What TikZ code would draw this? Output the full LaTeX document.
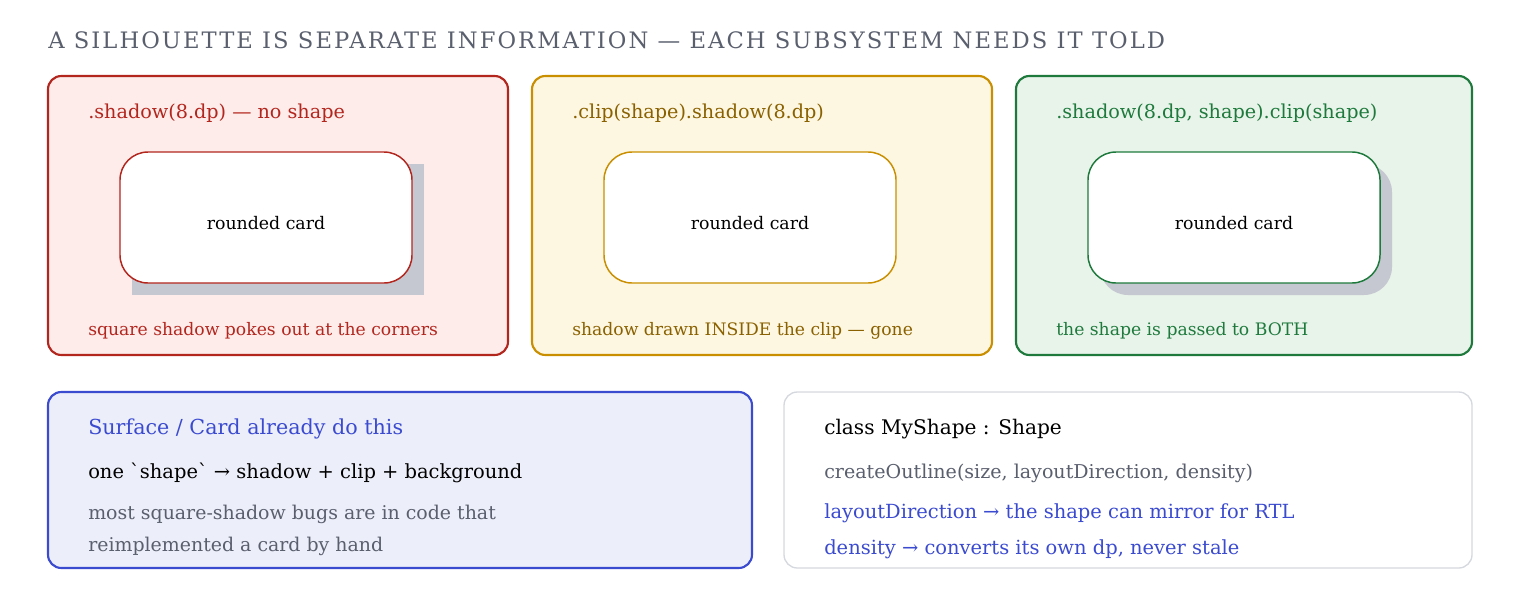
\documentclass[tikz,border=0pt]{standalone}
\usepackage{fontspec}
\setmainfont[Ligatures=TeXOff]{DejaVu Serif}
\usetikzlibrary{positioning}

\definecolor{redln}{HTML}{B3261E}
\definecolor{redbg}{HTML}{FDECEA}
\definecolor{ylwln}{HTML}{C98F00}
\definecolor{ylwbg}{HTML}{FDF6E0}
\definecolor{ylwtx}{HTML}{8A6100}
\definecolor{grnln}{HTML}{1E7A3C}
\definecolor{grnbg}{HTML}{E8F3EA}
\definecolor{bluln}{HTML}{3B4BD0}
\definecolor{blubg}{HTML}{ECEEF9}
\definecolor{gryln}{HTML}{D5D8DE}
\definecolor{grytx}{HTML}{5A5F6E}
\definecolor{shdw}{HTML}{C5C8D0}

\tikzset{
  panel/.style={draw=#1,line width=1.6pt,rounded corners=10pt},
  card/.style={draw=#1,fill=white,line width=1.1pt,rounded corners=21pt},
  lbl/.style={anchor=base west,inner sep=0pt,font=\fontsize{14.4}{16}\selectfont},
  note/.style={lbl,font=\fontsize{12.9}{15}\selectfont},
  cardtxt/.style={inner sep=0pt,font=\fontsize{13}{15}\selectfont}
}

\begin{document}
\begin{tikzpicture}[x=0.75pt,y=-0.75pt]
    \useasboundingbox (0,0) rectangle (1520,600);

    \node[anchor=base west,inner sep=0pt,text=grytx,font=\fontsize{17}{19}\selectfont\addfontfeature{LetterSpace=9}] (title) at (48,48) {A SILHOUETTE IS SEPARATE INFORMATION — EACH SUBSYSTEM NEEDS IT TOLD};

    % top row
    \draw[panel=redln,fill=redbg] (48,76) rectangle (508,355);
    \fill[shdw] (132,164) rectangle (424,295);
    \draw[card=redln] (120,152) rectangle (412,283);
    \node[cardtxt] (cardA) at (266,223) {rounded card};
    \node[lbl,text=redln] (headA) at (88,118) {.shadow(8.dp) — no shape};
    \node[note,text=redln] (footA) at (88,335) {square shadow pokes out at the corners};

    \draw[panel=ylwln,fill=ylwbg] (532,76) rectangle (992,355);
    \draw[card=ylwln] (604,152) rectangle (896,283);
    \node[cardtxt] (cardB) at (750,223) {rounded card};
    \node[lbl,text=ylwtx] (headB) at (572,118) {.clip(shape).shadow(8.dp)};
    \node[note,text=ylwtx] (footB) at (572,335) {shadow drawn INSIDE the clip — gone};

    \draw[panel=grnln,fill=grnbg] (1016,76) rectangle (1472,355);
    \fill[shdw,rounded corners=21pt] (1100,164) rectangle (1392,295);
    \draw[card=grnln] (1088,152) rectangle (1380,283);
    \node[cardtxt] (cardC) at (1234,223) {rounded card};
    \node[lbl,text=grnln] (headC) at (1056,118) {.shadow(8.dp, shape).clip(shape)};
    \node[note,text=grnln] (footC) at (1056,335) {the shape is passed to BOTH};

    % bottom row
    \draw[panel=bluln,fill=blubg] (48,392) rectangle (752,568);
    \node[lbl,text=bluln,font=\fontsize{15.5}{18}\selectfont] (surf) at (88,434) {Surface / Card already do this};
    \node[lbl,font=\fontsize{14.6}{17}\selectfont] (one) at (88,478) {one \symbol{96}shape\symbol{96} → shadow + clip + background};
    \node[lbl,text=grytx,font=\fontsize{14.2}{17}\selectfont] (bugs) at (88,519) {most square-shadow bugs are in code that};
    \node[lbl,text=grytx,font=\fontsize{14.2}{17}\selectfont] (hand) at (88,551) {reimplemented a card by hand};

    \draw[panel=gryln,fill=white,line width=1pt] (784,392) rectangle (1472,568);
    \node[lbl,font=\fontsize{15.1}{18}\selectfont] (cls) at (824,434) {class MyShape : Shape};
    \node[lbl,text=grytx,font=\fontsize{14.3}{17}\selectfont] (outl) at (824,478) {createOutline(size, layoutDirection, density)};
    \node[lbl,text=bluln,font=\fontsize{14.6}{17}\selectfont] (dir) at (824,518) {layoutDirection → the shape can mirror for RTL};
    \node[lbl,text=bluln,font=\fontsize{14.6}{17}\selectfont] (dens) at (824,554) {density → converts its own dp, never stale};
\end{tikzpicture}
\end{document}
